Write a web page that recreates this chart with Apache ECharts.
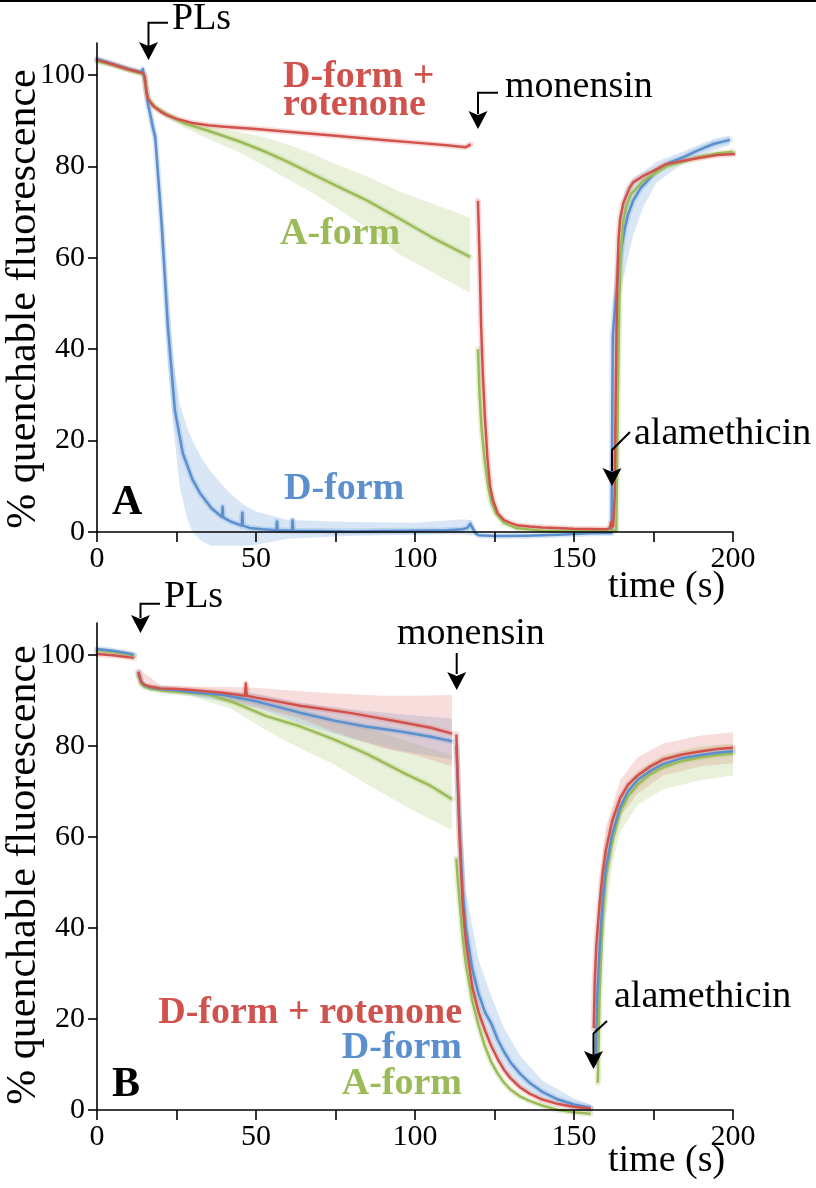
<!DOCTYPE html>
<html><head><meta charset="utf-8">
<script src="https://cdn.jsdelivr.net/npm/echarts@6.0.0/dist/echarts.min.js"></script>
<style>html,body{margin:0;padding:0;background:#fff}#c{width:816px;height:1188px}</style>
</head><body><div id="c"></div><script>
// ---------- Panel A data ----------
const aRedT = [0,5,10,14.5,15,15.5,16,17,18,20,22,25,30,35,40,50,60,75,90,100,110,116,117.5,118.7,119.8,120.3,120.8,121.3,122,122.8,123.6,124.5,126,128,130,132,136,140,150,160,161.2,161.7,162.3,162.8,163.2,163.6,164,164.5,165.5,167.5,168.6,172,175,179,184,189.6,195,201];
const aRedV = [103.3,102.3,101.2,100.4,99.6,96.5,94.8,93.8,93,92,91.2,90.4,89.5,89,88.7,88.2,87.6,86.7,85.8,85.2,84.6,84.2,84.8,null,72.5,60,45,35,25,16,10,7,4.1,2.6,2,1.5,1.2,1,0.7,0.6,0.8,2.2,1.2,8,35,55,64,68.5,72,75.3,76.5,78,79,80.5,81.2,81.9,82.5,82.7];
const aGreenT = [0,5,10,14.5,15,15.5,16,17,18,20,22,25,28,35,45,53,60,67,74,85,95,105,117.3,118.5,119.8,120.3,121,122,123,124,125.5,128,132,140,150,160,163.3,163.8,164.3,164.8,165.5,166.5,168,172,179,189,195,200];
const aGreenV = [103,102.2,101.1,100.2,99.5,96.5,95,94,93.2,92.2,91.3,90.3,89.3,87.8,85.4,83.2,81,78.6,76.2,72.5,68.6,64.6,60.2,null,40,30,22,15,10,6.5,4,2,0.8,0.3,0.2,0.2,0.4,30,52,62,68,71.5,74,77,80,82,82.8,83.2];
const aBlueT = [0,5,10,14,14.4,15.5,16,17,17.6,18.3,19,20.4,22.3,24.5,27,30,32.4,36,39.3,39.5,39.7,42,45.5,45.7,45.9,48,52,56.4,56.6,56.8,61.3,61.5,61.7,70,80,90,100,110,115,116.5,117.4,118,119,120,125,135,145,155,161.8,162.2,163,164,165,166,167,168.6,171,176,180,184.4,189,193.8,199];
const aBlueV = [103.5,102.4,101.3,100.6,101.3,97,93.7,90.5,88.4,86.5,80,66.6,44.8,26.6,17.2,11.5,8.5,5.2,3.3,5.5,3.2,2.3,1.4,4.2,1.4,0.9,0.6,0.4,2.3,0.4,0.3,2.6,0.3,0.2,0.1,0.2,0.3,0.4,0.6,0.9,1.8,1.0,-0.3,-0.7,-0.9,-0.8,-0.6,-0.3,-0.2,43,50,57,62.5,66.5,69.5,72.5,75.3,79,80.8,82,83.5,84.9,85.8];
// Panel A shaded ranges (lower / upper)
const aGreenBandT  = [20,28,35,45,53,60,67,74,85,95,105,117.3];
const aGreenBandLo = [91.5,88.3,86,83,80,77.2,74.5,71.5,66.5,60.8,57,52.3];
const aGreenBandHi = [92.6,90,88.8,87.5,86.3,84.8,83,80.8,77.8,74.5,72,68.8];
const aBlueBandT  = [15.5,17,18.5,20.4,22.3,24,26,28.3,30,33,36,41.8,46,50,60,80,100,115,118];
const aBlueBandHi = [98,92.5,88,72,53,38,28,22.9,20,16,13,8.5,6,4.5,2.6,2.2,2,2.8,2.5];
const aBlueBandLo = [95,88,84,61,37,23,10,3,0,-2,-3,-3,-3,-2.8,-1.5,-0.8,-0.6,-0.5,-0.8];
const aBlueBand2T  = [162.2,164,166,168.6,172,176,184,193.8,199];
const aBlueBand2Hi = [50,66,75,77.5,79,81,83.2,86,86.8];
const aBlueBand2Lo = [36,49,57,65,71.5,76.5,80.5,83.5,84.6];

// ---------- Panel B data ----------
const bRedT = [0,5,10,11.6,12.2,13,13.5,14,15,17,20,25,30,40,46.5,46.8,47.1,50,55,63.8,70,80,95,105,111.6,112.3,113,114,115,116,118,120,122,124,126,128,130,133,136,140,145,150,155.3,155.7,156.2,156.5,157,158,159,160,162,164.5,167,170,174,178,184,190,195,200];
const bRedV = [100.2,99.9,99.5,99.3,null,96.3,95,94,93.4,93,92.6,92.5,92.3,91.6,91,93.7,91,90.6,90,88.8,88.2,87.2,85.3,84,82.7,null,82.5,60,45,37,27,21.5,17.5,14,11.2,8.8,7,5,3.6,2.3,1.3,0.7,0.3,null,18,28,36,45,52,57,63.5,68.5,71.5,73.5,75.5,77,78.1,78.8,79.3,79.6];
const bBlueT = [0,5,10,11.6,12.2,13,13.5,14,15,17,20,25,30,40,50,63.8,75,85,95,105,111.6,112.3,113,114,115,116,118,120,122,124,126,128,130,133,136,140,145,150,155.3,155.7,156.8,157.3,158,159,160,162,164.5,167,170,174,178,184,190,195,200];
const bBlueV = [101.3,100.9,100.3,100,null,96,95,94,93.3,92.8,92.5,92.2,91.8,91.2,89.8,87.3,85.5,84.2,83.2,82,81,null,80,62,48,40,31,25.5,21.5,19,15.5,12.8,10.5,8,6,4,2.3,1.2,0.5,null,10,25,35,46,53,60.5,66.5,70,72.5,74.5,76,77.3,78,78.5,78.8];
const bGreenT = [0,5,10,11.6,12.2,13,13.5,14,15,17,20,25,30,35,42,47,53,63.8,74.3,85,97.5,105,111.6,112.3,113,113.5,114,115,116,118,120,122,124,126,128,130,133,136,140,145,150,155.3,155.7,157.5,158,159,160,162,164.5,167,170,174,178,184,190,195,200];
const bGreenV = [101,100.6,100.1,99.9,null,95.5,94.5,93.5,93,92.5,92.2,91.9,91.6,91.3,89.8,88.4,86.6,84.3,81.5,78.2,73.7,71.2,68.3,null,55.3,50,46,38,32,24,18.5,14,10.5,8,6,4.5,3,2,1,0,-0.5,-0.8,null,6,25,42,51,59,65.5,69,71.5,73.8,75.3,76.7,77.5,78,78.3];
// Panel B shaded ranges
const bRedBandT  = [13,20,30,40,50,63.8,75,90,100,111.6];
const bRedBandHi = [97,93.3,93,93,92.8,92,91.5,91,91,91.2];
const bRedBandLo = [95.5,91.8,91.5,90.4,88.6,86,83,79.5,78,75.5];
const bBlueBandT  = [30,50,63.8,80,95,111.6];
const bBlueBandHi = [92.5,91.5,89.5,88,87,86];
const bBlueBandLo = [91,88.4,85,81.5,79,77];
const bGreenBandT  = [20,30,42,53,63.8,74.3,85,97.5,111.6];
const bGreenBandHi = [92.7,92.3,91.5,89.5,88,86,84,81,78];
const bGreenBandLo = [91.7,90.8,88.2,83.5,79.5,76,71.5,66.5,61.5];
const bBlueDecayBandT  = [113,116,120,124,128,133,140,150,155.3];
const bBlueDecayBandHi = [84,48,33,25,18,12,6.5,2.5,1.2];
const bBlueDecayBandLo = [76,34,20,14,9,5,2.2,0,-0.5];
const bRedRiseBandT  = [156.2,158,160,164.5,170,178,190,200];
const bRedRiseBandHi = [22,50,62,72.5,77.5,80.5,82.3,83];
const bRedRiseBandLo = [14,39,52,64.5,69.5,73.5,75.5,76.2];
const bGreenRiseBandT  = [157.5,159,162,164.5,170,178,190,200];
const bGreenRiseBandHi = [8,46,62,68.5,74.5,78,80,80.5];
const bGreenRiseBandLo = [4,36,54,61,67,70.5,72.5,73.5];

// ---------- axis ticks ----------
const xTicks = [0,25,50,75,100,125,150,175,200];
const xLabels = [0,50,100,150,200];
const yTicks = [0,20,40,60,80,100];

// ---------- styling ----------
const RED = '#d1524c', BLUE = '#5b8fcd', GREEN = '#9bbb59';
const RED_BAND = 'rgba(226,125,120,0.26)', BLUE_BAND = 'rgba(120,165,220,0.28)', GREEN_BAND = 'rgba(170,200,110,0.25)';
const RED_HALO = 'rgba(226,125,120,0.28)', BLUE_HALO = 'rgba(120,165,220,0.28)', GREEN_HALO = 'rgba(170,200,110,0.28)';
const SERIF = '"Liberation Serif", "DejaVu Serif", serif';

function pts(ts, vs){ return ts.map((t,i)=>[t, vs[i]===null ? '-' : vs[i]]); }
const series = [];
function band(gi, ts, lo, hi, color){
  series.push({type:'custom', xAxisIndex:gi, yAxisIndex:gi, clip:false, silent:true, z:1, animation:false,
    data: ts.map((t,i)=>[t, lo[i], hi[i]]),
    encode:{x:0, y:[1,2]},
    renderItem: function(params, api){
      if (params.dataIndexInside !== 0) return null;
      const n = params.dataInsideLength;
      const up = [], dn = [];
      for (let j=0;j<n;j++){
        up.push(api.coord([api.value(0,j), api.value(2,j)]));
        dn.push(api.coord([api.value(0,j), api.value(1,j)]));
      }
      return {type:'polygon', shape:{points: up.concat(dn.reverse())}, style:{fill:color}};
    }});
}
function halo(gi, ts, vs, color){
  series.push({type:'line', xAxisIndex:gi, yAxisIndex:gi, data:pts(ts, vs), symbol:'none', connectNulls:false,
    lineStyle:{width:6, color:color, cap:'round', join:'round'}, clip:false, silent:true, z:2, animation:false});
}
function line(gi, ts, vs, color, z){
  series.push({type:'line', xAxisIndex:gi, yAxisIndex:gi, data:pts(ts, vs), symbol:'none', connectNulls:false,
    lineStyle:{width:2.5, color:color, join:'round'}, clip:false, silent:true, z:z, animation:false});
}

// Panel A
band(0, aGreenBandT, aGreenBandLo, aGreenBandHi, GREEN_BAND);
band(0, aBlueBandT, aBlueBandLo, aBlueBandHi, BLUE_BAND);
band(0, aBlueBand2T, aBlueBand2Lo, aBlueBand2Hi, BLUE_BAND);
halo(0, aBlueT, aBlueV, BLUE_HALO);
halo(0, aGreenT, aGreenV, GREEN_HALO);
halo(0, aRedT, aRedV, RED_HALO);
line(0, aBlueT, aBlueV, BLUE, 3);
line(0, aGreenT, aGreenV, GREEN, 3);
line(0, aRedT, aRedV, RED, 4);
// Panel B
band(1, bGreenBandT, bGreenBandLo, bGreenBandHi, GREEN_BAND);
band(1, bBlueBandT, bBlueBandLo, bBlueBandHi, BLUE_BAND);
band(1, bRedBandT, bRedBandLo, bRedBandHi, RED_BAND);
band(1, bBlueDecayBandT, bBlueDecayBandLo, bBlueDecayBandHi, BLUE_BAND);
band(1, bRedRiseBandT, bRedRiseBandLo, bRedRiseBandHi, RED_BAND);
band(1, bGreenRiseBandT, bGreenRiseBandLo, bGreenRiseBandHi, GREEN_BAND);
halo(1, bGreenT, bGreenV, GREEN_HALO);
halo(1, bBlueT, bBlueV, BLUE_HALO);
halo(1, bRedT, bRedV, RED_HALO);
line(1, bGreenT, bGreenV, GREEN, 3);
line(1, bBlueT, bBlueV, BLUE, 3);
line(1, bRedT, bRedV, RED, 4);

function xAx(gi){
  return {type:'value', gridIndex:gi, min:0, max:200, z:10,
    axisLine:{show:true, onZero:false, lineStyle:{color:'#000', width:1.6}},
    axisTick:{show:true, customValues:xTicks, length:10, inside:false, lineStyle:{color:'#000', width:1.6}},
    axisLabel:{customValues:xLabels, color:'#000', fontSize:30, fontFamily:SERIF, margin:12},
    splitLine:{show:false}};
}
function yAx(gi){
  return {type:'value', gridIndex:gi, min:0, max:107, z:10,
    axisLine:{show:true, onZero:false, lineStyle:{color:'#000', width:1.6}},
    axisTick:{show:true, customValues:yTicks, length:9, inside:false, lineStyle:{color:'#000', width:1.6}},
    axisLabel:{customValues:yTicks, color:'#000', fontSize:30, fontFamily:SERIF, margin:12},
    splitLine:{show:false}};
}

function txt(x, y, s, o){
  o = o || {};
  return {type:'text', x:x, y:y, rotation:o.rot||0, z:100, silent:true,
    style:{text:s, fill:o.color||'#000', font:(o.bold?'bold ':'normal ')+(o.size||38)+'px '+SERIF,
      textAlign:o.align||'left', textVerticalAlign:'middle'}};
}
function arrow(path, tipX, tipY){
  return [
    {type:'polyline', z:100, silent:true, shape:{points:path}, style:{stroke:'#000', lineWidth:2, fill:null}},
    {type:'polygon', z:100, silent:true, shape:{points:[[tipX-9.5,tipY-18],[tipX,tipY-14],[tipX+9.5,tipY-18],[tipX,tipY]]}, style:{fill:'#000'}}
  ];
}

const graphics = [
  {type:'line', z:100, shape:{x1:0,y1:1,x2:816,y2:1}, style:{stroke:'#000', lineWidth:2}},
  // Panel A
  txt(172, 19, 'PLs'),
  ...arrow([[168,22.7],[148.5,22.7],[148.5,46]], 148.5, 60),
  txt(283, 77, 'D-form +', {bold:true, color:RED}),
  txt(283, 105, 'rotenone', {bold:true, color:RED}),
  txt(505, 87, 'monensin'),
  ...arrow([[498,92.7],[478,92.7],[478,114]], 478, 129),
  txt(280, 234, 'A-form', {bold:true, color:GREEN}),
  txt(284, 489, 'D-form', {bold:true, color:BLUE}),
  txt(112, 503, 'A', {bold:true, size:42}),
  txt(634, 434, 'alamethicin'),
  ...arrow([[630,432],[612,450],[612,471]], 612, 486),
  txt(608, 587, 'time (s)'),
  txt(24, 299, '% quenchable fluorescence', {rot:Math.PI/2, align:'center', size:42}),
  // Panel B
  txt(164, 597, 'PLs'),
  ...arrow([[160,603.7],[140.5,603.7],[140.5,618]], 140.5, 633),
  txt(397, 634, 'monensin'),
  ...arrow([[456.7,653],[456.7,674]], 456.7, 690),
  txt(614, 997, 'alamethicin'),
  ...arrow([[607,1021],[593.5,1033.5],[593.5,1056]], 593.5, 1069),
  txt(462, 1013, 'D-form + rotenone', {bold:true, color:RED, align:'right'}),
  txt(462, 1048, 'D-form', {bold:true, color:BLUE, align:'right'}),
  txt(462, 1084, 'A-form', {bold:true, color:GREEN, align:'right'}),
  txt(112, 1085, 'B', {bold:true, size:42}),
  txt(608, 1161, 'time (s)'),
  txt(24, 875, '% quenchable fluorescence', {rot:Math.PI/2, align:'center', size:42})
];

const chart = echarts.init(document.getElementById('c'), null, {renderer:'canvas', width:816, height:1188});
chart.setOption({
  animation:false,
  backgroundColor:'#fff',
  grid:[
    {left:97, top:43, width:636, height:489, outerBoundsMode:'none', containLabel:false},
    {left:97, top:623, width:636, height:487, outerBoundsMode:'none', containLabel:false}
  ],
  xAxis:[xAx(0), xAx(1)],
  yAxis:[yAx(0), yAx(1)],
  series:series,
  graphic:{elements:graphics}
});
</script></body></html>
